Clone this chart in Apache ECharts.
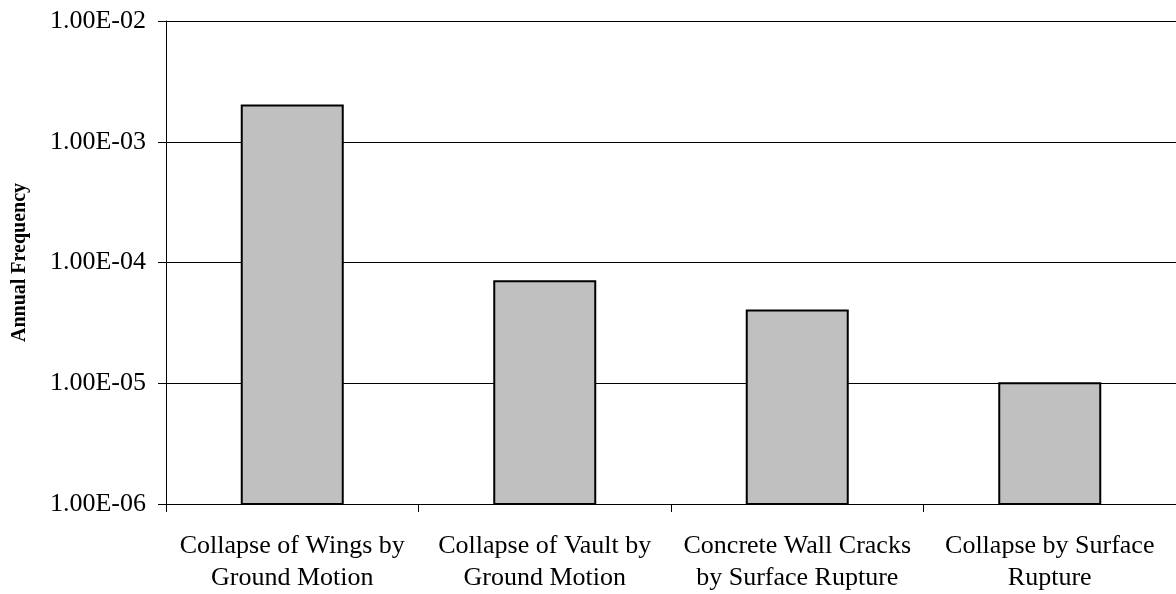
<!DOCTYPE html>
<html>
<head>
<meta charset="utf-8">
<script src="https://cdn.jsdelivr.net/npm/echarts@6/dist/echarts.min.js"></script>
<style>
  html, body { margin: 0; padding: 0; background: #fff; }
  #chart { width: 1176px; height: 594px; }
</style>
</head>
<body>
<div id="chart"></div>
<script>
// categories and values
var categories = [
    'Collapse of Wings by\nGround Motion',
    'Collapse of Vault by\nGround Motion',
    'Concrete Wall Cracks\nby Surface Rupture',
    'Collapse by Surface\nRupture'
];
var annualFrequency = [2e-3, 7e-5, 4e-5, 1e-5];
var yTicks = ['1.00E-06', '1.00E-05', '1.00E-04', '1.00E-03', '1.00E-02'];
var yMin = 1e-6;
var yMax = 1e-2;

var chart = echarts.init(document.getElementById('chart'));

function sciLabel(v) {
    var idx = Math.round(Math.log10(v)) + 6;
    return yTicks[idx] || '';
}

var font = '"Liberation Serif", "Times New Roman", serif';

// log axis bars grow from 10^0 in echarts, so draw them from the axis min
function renderBar(params, api) {
    var top = api.coord([api.value(0), api.value(1)]);
    var base = api.coord([api.value(0), yMin]);
    var w = api.size([1, 0])[0] * 0.4;
    return {
        type: 'rect',
        shape: { x: top[0] - w / 2, y: top[1], width: w, height: base[1] - top[1] },
        style: { fill: '#c0c0c0', stroke: '#000', lineWidth: 2 }
    };
}

var option = {
    animation: false,
    backgroundColor: '#fff',
    grid: {
        left: 166,
        top: 21,
        width: 1016,
        bottom: 89,
        containLabel: false
    },
    xAxis: {
        type: 'category',
        data: categories,
        axisLine: { lineStyle: { color: '#000', width: 1 } },
        axisTick: { show: true, length: 8, lineStyle: { color: '#000' } },
        axisLabel: {
            interval: 0,
            margin: 26,
            fontFamily: font,
            fontSize: 26,
            lineHeight: 32,
            color: '#000'
        }
    },
    yAxis: {
        type: 'log',
        logBase: 10,
        min: yMin,
        max: yMax,
        name: 'Annual Frequency',
        nameLocation: 'middle',
        nameGap: 136,
        nameTextStyle: {
            fontFamily: font,
            fontSize: 20,
            fontWeight: 'bold',
            color: '#000'
        },
        axisLine: { show: true, lineStyle: { color: '#000', width: 1 } },
        axisTick: { show: true, length: 8, lineStyle: { color: '#000' } },
        splitLine: { show: true, lineStyle: { color: '#000', width: 1 } },
        axisLabel: {
            margin: 20,
            fontFamily: font,
            fontSize: 26,
            color: '#000',
            formatter: sciLabel
        }
    },
    series: [
        {
            name: 'Annual Frequency',
            type: 'custom',
            renderItem: renderBar,
            encode: { x: 0, y: 1 },
            data: annualFrequency.map(function (v, i) { return [i, v]; })
        }
    ]
};
chart.setOption(option);
</script>
</body>
</html>
